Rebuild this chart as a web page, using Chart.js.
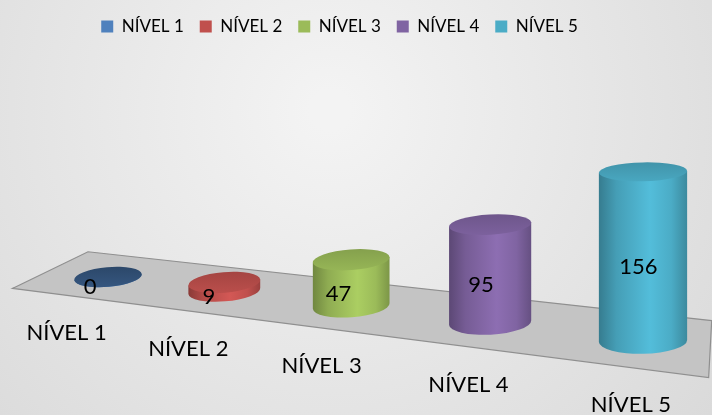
<!DOCTYPE html>
<html>
<head>
<meta charset="utf-8">
<script src="https://cdn.jsdelivr.net/npm/chart.js@4.4.1/dist/chart.umd.min.js"></script>
<style>
  html, body { margin: 0; padding: 0; background: #e4e4e4; }
  #wrap { width: 712px; height: 415px; }
</style>
</head>
<body>
<div id="wrap"><canvas id="levels" width="712" height="415"></canvas></div>
<script>
const categories = ['NÍVEL 1', 'NÍVEL 2', 'NÍVEL 3', 'NÍVEL 4', 'NÍVEL 5'];
const counts = [0, 9, 47, 95, 156];
const colors = ['#4F81BD', '#C0504D', '#9BBB59', '#8064A2', '#4BACC6'];

// 3D view used to bend the flat bar layout onto a receding floor
const view = {
    recede: 1.2,                    // far end sits this much further from the eye
    tilt: 0.1196,                   // floor line drop per px to the right
    vanish: { dx: 89, dy: -402 },   // depth vanishing point, from the last foot
    depth: 0.068,                   // half floor depth (fraction towards vanishing point)
    floorPad: [0.53, 0.41],         // floor overhang past first / last category
    radiusPow: 1.45,
    tickGap: { dx: -6, dy: 37 }
};

Chart.defaults.font.family = 'Lato';

function shade(hex, f) {
    const n = parseInt(hex.slice(1), 16);
    const c = [(n >> 16) & 255, (n >> 8) & 255, n & 255]
        .map(v => Math.max(0, Math.min(255, Math.round(v * f))));
    return `rgb(${c.join(',')})`;
}

const cylinders = {
    id: 'cylinders',

    beforeDraw(chart) {
        const { ctx, width, height } = chart;
        const g = ctx.createRadialGradient(330, 110, 20, 330, 110, 580);
        g.addColorStop(0, '#f3f3f3');
        g.addColorStop(1, '#d5d5d5');
        ctx.save();
        ctx.fillStyle = g;
        ctx.fillRect(0, 0, width, height);
        ctx.restore();
    },

    beforeDatasetsDraw(chart) {
        const ctx = chart.ctx;
        const xs = chart.scales.x, ys = chart.scales.y;
        const n = categories.length;
        const first = xs.getPixelForValue(0), last = xs.getPixelForValue(n - 1);
        const step = (last - first) / (n - 1);
        const zero = ys.getPixelForValue(0);
        const vp = { x: last + view.vanish.dx, y: zero + view.vanish.dy };

        // flat x -> point on the floor line, with its perspective scale
        const place = flatX => {
            const t = (flatX - first) / (last - first);
            const s = 1 / (view.recede * (1 - t) + t);
            const x = first + (last - first) * t * s;
            return { x, y: zero - view.tilt * (last - x), s };
        };
        // slide along the depth direction (f > 0 goes back)
        const shift = (p, f) => ({ x: p.x + (vp.x - p.x) * f, y: p.y + (vp.y - p.y) * f });

        ctx.save();

        // floor
        const a = place(first - view.floorPad[0] * step);
        const b = place(last + view.floorPad[1] * step);
        const floor = [
            shift(a, -view.depth * a.s), shift(a, view.depth * a.s),
            shift(b, view.depth * b.s), shift(b, -view.depth * b.s)
        ];
        ctx.beginPath();
        floor.forEach((c, i) => i ? ctx.lineTo(c.x, c.y) : ctx.moveTo(c.x, c.y));
        ctx.closePath();
        ctx.fillStyle = '#c4c4c4';
        ctx.fill();
        ctx.strokeStyle = '#8f8f8f';
        ctx.lineWidth = 1.2;
        ctx.stroke();

        const meta = chart.getDatasetMeta(0);
        meta.data.forEach((bar, i) => {
            const { x, y, base, width } = bar.getProps(['x', 'y', 'base', 'width'], true);
            const p = place(x);
            const h = (base - y) * p.s;
            const rx = width / 2 * Math.pow(p.s, view.radiusPow);
            const ryB = rx * 0.29;
            const ryT = rx * (0.29 - 0.00045 * h);
            const dist = Math.hypot(vp.x - p.x, vp.y - p.y);
            const rot = -0.1 * (vp.x - p.x) / dist;
            const cx = p.x, by = p.y, ty = p.y - h;
            const color = colors[i];
            const ex = rx * Math.cos(rot), ey = rx * Math.sin(rot);

            // side
            const side = ctx.createLinearGradient(cx - rx, 0, cx + rx, 0);
            side.addColorStop(0, shade(color, 0.72));
            side.addColorStop(0.2, shade(color, 0.92));
            side.addColorStop(0.58, shade(color, 1.1));
            side.addColorStop(0.82, shade(color, 1.0));
            side.addColorStop(1, shade(color, 0.8));
            ctx.beginPath();
            ctx.moveTo(cx + ex, ty + ey);
            ctx.lineTo(cx + ex, by + ey);
            ctx.ellipse(cx, by, rx, ryB, rot, 0, Math.PI);
            ctx.lineTo(cx - ex, ty - ey);
            ctx.closePath();
            ctx.fillStyle = side;
            ctx.fill();

            // top
            const dim = h < 1 ? 0.62 : 0.92;
            const top = ctx.createLinearGradient(0, ty - ryT, 0, ty + ryT);
            top.addColorStop(0, shade(color, dim - 0.06));
            top.addColorStop(1, shade(color, dim + 0.05));
            ctx.beginPath();
            ctx.ellipse(cx, ty, rx, ryT, rot, 0, Math.PI * 2);
            ctx.fillStyle = top;
            ctx.fill();

            // value label, half way up and a little towards the front
            ctx.font = '22px Lato';
            ctx.fillStyle = '#000';
            ctx.textAlign = 'center';
            ctx.textBaseline = 'middle';
            const lbl = shift({ x: cx, y: by - h / 2 }, -view.depth * p.s * 0.45);
            ctx.fillText(String(counts[i]), lbl.x - 2, lbl.y + 1);

            // category label in front of the floor
            const front = shift(p, -view.depth * p.s);
            ctx.fillText(categories[i], front.x + view.tickGap.dx, front.y + view.tickGap.dy);
        });

        ctx.restore();
        return false;
    }
};

new Chart(document.getElementById('levels'), {
    type: 'bar',
    data: {
        labels: categories,
        datasets: [{
            data: counts,
            backgroundColor: colors,
            categoryPercentage: 1,
            barPercentage: 0.66
        }]
    },
    options: {
        responsive: false,
        animation: false,
        layout: { padding: { top: 2, right: 33, bottom: 74, left: 0 } },
        plugins: {
            legend: {
                position: 'top',
                align: 'center',
                labels: {
                    boxWidth: 12,
                    boxHeight: 12,
                    padding: 16,
                    color: '#3a3a3a',
                    font: { family: 'Lato', size: 17 },
                    generateLabels: () => categories.map((c, i) => ({
                        text: c,
                        fillStyle: colors[i],
                        strokeStyle: colors[i],
                        lineWidth: 0,
                        hidden: false,
                        index: i,
                        datasetIndex: 0
                    }))
                }
            },
            tooltip: { enabled: false }
        },
        scales: {
            x: { display: false, offset: false },
            y: {
                min: 0,
                max: 273,
                position: 'left',
                ticks: { display: false },
                grid: { display: false },
                border: { display: false },
                afterFit: s => { s.width = 108; }
            },
            side: {
                type: 'linear',
                position: 'right',
                ticks: { display: false },
                grid: { display: false },
                border: { display: false },
                afterFit: s => { s.width = 36; }
            }
        }
    },
    plugins: [cylinders]
});
</script>
</body>
</html>
